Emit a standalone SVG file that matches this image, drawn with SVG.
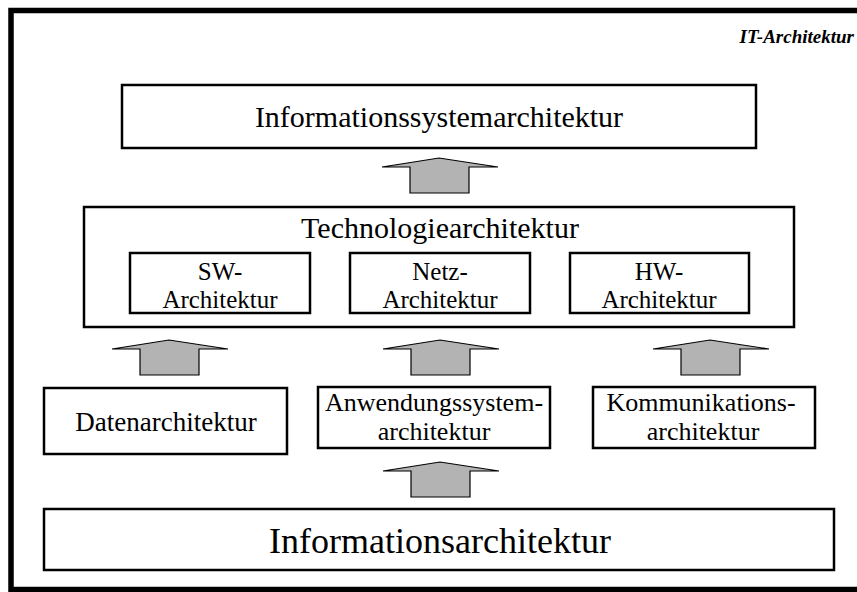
<svg xmlns="http://www.w3.org/2000/svg" width="857" height="592" viewBox="0 0 857 592">
  <style>
    .box { fill: #ffffff; stroke: #000000; stroke-width: 2.5; }
    .frame { fill: #ffffff; stroke: #000000; stroke-width: 5.5; }
    .arrow { fill: #b3b3b3; stroke: #000000; stroke-width: 1.2; stroke-linejoin: miter; }
    text { font-family: "Liberation Serif", "Times New Roman", serif; fill: #000000; text-anchor: middle; }
    .t25 { font-size: 25px; }
    .t26 { font-size: 26px; }
    .t27 { font-size: 27px; }
    .t30 { font-size: 30px; }
    .big { font-size: 36px; }
    .title { font-size: 19px; font-weight: bold; font-style: italic; text-anchor: end; }
  </style>
  <defs>
    <!-- broad upward arrow: flat wings, short shaft -->
    <path id="uparrow" class="arrow" d="M -57,9 L 0,0 L 59,9 L 30,9 L 30,35 L -29,35 L -29,9 Z"/>
  </defs>

  <rect width="857" height="592" fill="#ffffff"/>
  <rect class="frame" x="11" y="10.5" width="870" height="579"/>

  <g id="it-architektur">
    <text class="title" x="854" y="43">IT-Architektur</text>
  </g>

  <g id="informationssystemarchitektur">
    <rect class="box" x="122" y="85" width="634" height="63"/>
    <text class="t30" x="439" y="127">Informationssystemarchitektur</text>
  </g>

  <g id="technologiearchitektur">
    <rect class="box" x="84" y="207" width="710" height="120"/>
    <text class="t30" x="440" y="238">Technologiearchitektur</text>
  </g>

  <g id="sw-architektur">
    <rect class="box" x="130" y="253" width="180" height="60"/>
    <text class="t25" x="220" y="280">SW-</text>
    <text class="t25" x="220" y="308">Architektur</text>
  </g>

  <g id="netz-architektur">
    <rect class="box" x="350" y="253" width="180" height="60"/>
    <text class="t25" x="440" y="280">Netz-</text>
    <text class="t25" x="440" y="308">Architektur</text>
  </g>

  <g id="hw-architektur">
    <rect class="box" x="570" y="253" width="179" height="60"/>
    <text class="t25" x="659" y="280">HW-</text>
    <text class="t25" x="659" y="308">Architektur</text>
  </g>

  <g id="datenarchitektur">
    <rect class="box" x="44" y="388" width="243" height="66"/>
    <text class="t27" x="166" y="431">Datenarchitektur</text>
  </g>

  <g id="anwendungssystemarchitektur">
    <rect class="box" x="318" y="387" width="232" height="61"/>
    <text class="t26" x="434" y="411">Anwendungssystem-</text>
    <text class="t26" x="434" y="440">architektur</text>
  </g>

  <g id="kommunikationsarchitektur">
    <rect class="box" x="593" y="387" width="222" height="61"/>
    <text class="t26" x="701" y="411">Kommunikations-</text>
    <text class="t26" x="703" y="440">architektur</text>
  </g>

  <g id="informationsarchitektur">
    <rect class="box" x="44" y="509" width="790" height="61"/>
    <text class="big" x="440" y="553">Informationsarchitektur</text>
  </g>

  <g id="connectors">
    <use href="#uparrow" x="439" y="158"/>
    <use href="#uparrow" x="169" y="340"/>
    <use href="#uparrow" x="440" y="340"/>
    <use href="#uparrow" x="710" y="340"/>
    <use href="#uparrow" x="440" y="462"/>
  </g>
</svg>
